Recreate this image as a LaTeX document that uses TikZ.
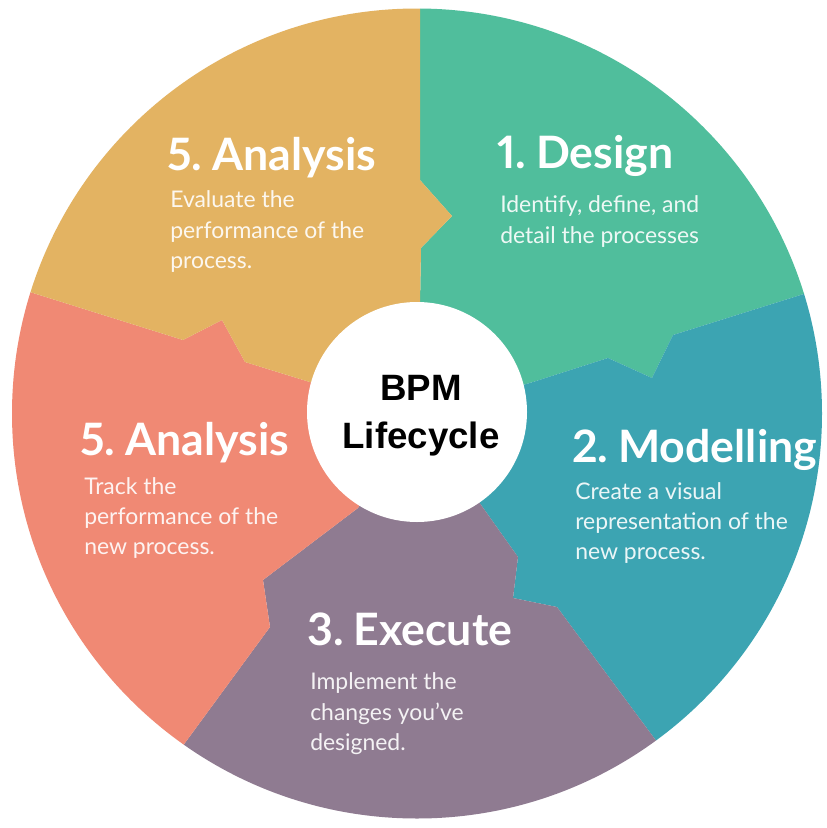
\documentclass[tikz,border=0pt]{standalone}
\usepackage{fontspec}
\setmainfont{Lato}[Numbers=Proportional]
\newfontfamily\bpmfont{Liberation Sans}
\definecolor{cYel}{RGB}{227,179,98}
\definecolor{cGrn}{RGB}{80,190,156}
\definecolor{cTeal}{RGB}{60,164,178}
\definecolor{cPur}{RGB}{143,123,145}
\definecolor{cSal}{RGB}{240,137,116}
\newcommand{\gp}{\hspace{0.22em}}
\begin{document}
\begin{tikzpicture}[x=0.75pt,y=-0.75pt,
  ttl/.style={anchor=base west, inner sep=0pt, text=white, font=\bfseries\fontsize{33.5}{40}\selectfont},
  bdy/.style={anchor=base west, inner sep=0pt, text=white, text opacity=0.9, font=\fontsize{17.2}{23}\selectfont},
  ctr/.style={anchor=base, inner sep=0pt, text=black, font=\bpmfont\bfseries\fontsize{27.5}{33}\selectfont}]
\useasboundingbox (0,0) rectangle (827,828);
\fill[white] (0,0) rectangle (827,828);
\coordinate (C) at (418,416);
\begin{scope}
\clip (417,413.5) circle (405);
% 1. Design (green)
\fill[cGrn] (C) -- (421,248) -- (452,216) -- (420,180) -- (420,-100) -- (1000,-100) -- (1000,232)
  -- (807,293) -- (673,335) -- (652,378) -- (608,358) -- (533,382) -- cycle;
% 2. Modelling (teal)
\fill[cTeal] (C) -- (533,382) -- (608,358) -- (652,378) -- (673,335) -- (807,293) -- (1000,232)
  -- (1000,1000) -- (848,1000) -- (663,750) -- (557,607) -- (513,598) -- (518,557) -- cycle;
% 3. Execute (purple)
\fill[cPur] (C) -- (518,557) -- (513,598) -- (557,607) -- (663,750) -- (848,1000)
  -- (-4,1000) -- (182,747) -- (270,627) -- (263,580) -- (358,508) -- cycle;
% 5. Analysis left (salmon)
\fill[cSal] (C) -- (358,508) -- (263,580) -- (270,627) -- (182,747) -- (-4,1000)
  -- (-200,1000) -- (-200,220) -- (33,293) -- (183,340) -- (222,320) -- (245,362) -- (313,383) -- cycle;
% 5. Analysis top (yellow)
\fill[cYel] (C) -- (313,383) -- (245,362) -- (222,320) -- (183,340) -- (33,293) -- (-200,220)
  -- (-200,-100) -- (420,-100) -- (420,180) -- (452,216) -- (421,248) -- cycle;
\end{scope}
\node[circle, fill=white, minimum size=165pt, inner sep=0pt] (hub) at (417,412) {};
\node[ctr] (hubA) at (421,400) {BPM};
\node[ctr] (hubB) at (421,448) {Lifecycle};
% top-left analysis
\node[ttl] (tA) at (167,170) {5.\gp Analysis};
\node[bdy] (tA1) at (170,207) {Evaluate the};
\node[bdy] (tA2) at (170,238) {performance of the};
\node[bdy] (tA3) at (170,268) {process.};
% design
\node[ttl] (tD) at (497,168) {1.\gp Design};
\node[bdy] (tD1) at (500,212) {Identify, define, and};
\node[bdy] (tD2) at (500,243) {detail the processes};
% modelling
\node[ttl] (tM) at (572,462) {2.\gp Modelling};
\node[bdy] (tM1) at (575,499) {Create a visual};
\node[bdy] (tM2) at (575,529) {representation of the};
\node[bdy] (tM3) at (575,559) {new process.};
% left analysis
\node[ttl] (tL) at (80,455) {5.\gp Analysis};
\node[bdy] (tL1) at (84,494) {Track the};
\node[bdy] (tL2) at (84,524) {performance of the};
\node[bdy] (tL3) at (84,554) {new process.};
% execute
\node[ttl] (tE) at (307,645) {3.\gp Execute};
\node[bdy] (tE1) at (310,689) {Implement the};
\node[bdy] (tE2) at (310,720) {changes you've};
\node[bdy] (tE3) at (310,750) {designed.};
\end{tikzpicture}
\end{document}
